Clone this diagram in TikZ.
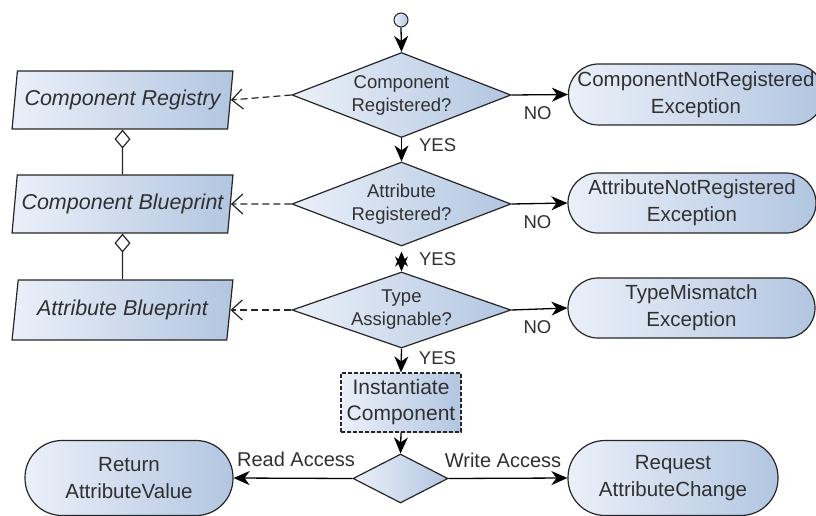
\documentclass[tikz,border=0pt]{standalone}
\usepackage{fontspec}
\setmainfont{Liberation Sans}
\usetikzlibrary{shapes.geometric,arrows.meta}

\definecolor{ink}{HTML}{303030}
\definecolor{fillL}{HTML}{EBF0F9}
\definecolor{fillR}{HTML}{B2C6E1}
\definecolor{edgec}{HTML}{262626}

\begin{document}
\begin{tikzpicture}[x=1pt,y=-1pt,
  every node/.style={text=ink},
  shaded/.style={draw=edgec, line width=1.2pt, left color=fillL, right color=fillR},
  decision/.style={shaded, diamond, inner sep=0pt},
  dtext/.style={font=\fontsize{18.5}{23}\selectfont, align=center, inner sep=0pt},
  terminal/.style={shaded, rectangle, rounded corners=#1, inner sep=0pt, align=center,
    font=\fontsize{20.5}{27}\selectfont},
  datastore/.style={shaded, trapezium, trapezium left angle=76, trapezium right angle=104,
    trapezium stretches=true, minimum width=221pt, minimum height=58pt, inner sep=0pt,
    font=\fontsize{21.5}{26}\selectfont\itshape},
  process/.style={shaded, rectangle, dash pattern=on 4pt off 2pt, inner sep=0pt,
    minimum width=120pt, minimum height=59pt, align=center, font=\fontsize{21}{26}\selectfont},
  startnode/.style={shaded, circle, line width=1pt, minimum size=14pt, inner sep=0pt},
  tip/.style={Stealth[length=16pt,width=14pt,inset=5pt]},
  flow/.style={draw=black, line width=1.3pt, -{Stealth[length=16pt,width=14pt,inset=5pt]}},
  twoway/.style={draw=black, line width=1.3pt,
    {Stealth[length=15pt,width=13pt,inset=5pt]}-{Stealth[length=15pt,width=13pt,inset=5pt]}},
  refer/.style={draw=edgec, line width=1.2pt, dash pattern=on 7pt off 4pt,
    -{Straight Barb[length=11pt,width=20pt]}},
  agg/.style={draw=edgec, line width=1.2pt, -{Diamond[open,length=19pt,width=16pt]}},
  lbl/.style={font=\fontsize{18.5}{22}\selectfont, inner sep=0pt},
  acc/.style={font=\fontsize{20}{24}\selectfont, inner sep=0pt}
]
\useasboundingbox (0,0) rectangle (816,516);

% main decision column
\node[startnode] (start) at (401,20) {};
\node[decision, minimum width=219pt, minimum height=85pt] (d1) at (401.5,95) {};
\node[dtext] at (d1) {Component\\Registered?};
\node[decision, minimum width=219pt, minimum height=84pt] (d2) at (401.5,204) {};
\node[dtext] at (d2) {Attribute\\Registered?};
\node[decision, minimum width=219pt, minimum height=76pt] (d3) at (401.5,310) {};
\node[dtext] at (d3) {Type\\Assignable?};
\node[process] (inst) at (401,402.5) {Instantiate\\Component};
\node[decision, minimum width=95pt, minimum height=49pt] (d4) at (400.5,478.5) {};

% data stores on the left
\node[datastore] (cr) at (122.5,100) {Component Registry};
\node[datastore] (cb) at (122.5,204) {Component Blueprint};
\node[datastore, minimum height=60pt] (ab) at (122.5,310) {Attribute Blueprint};

% terminals
\node[terminal=30pt, minimum width=255pt, minimum height=61pt] (cnre) at (696,94.5)
  {ComponentNotRegistered\\Exception};
\node[terminal=30pt, minimum width=248pt, minimum height=60pt] (anre) at (692,203)
  {AttributeNotRegistered\\Exception};
\node[terminal=30pt, minimum width=247pt, minimum height=60pt] (tme) at (691.5,308)
  {TypeMismatch\\Exception};
\node[terminal=37pt, minimum width=208pt, minimum height=75pt] (rav) at (129,478)
  {Return\\AttributeValue};
\node[terminal=37pt, minimum width=210pt, minimum height=75pt] (rac) at (673,478)
  {Request\\AttributeChange};

% control flow
\draw[flow] (start.south) -- (d1.north);
\draw[flow] (d1.south) -- node[lbl, pos=0.31, anchor=west, xshift=17pt] {YES} (d2.north);
\draw[twoway, shorten <=5pt] (d2.south) -- node[lbl, pos=0.5, anchor=west, xshift=17pt] {YES} (d3.north);
\draw[flow] (d3.south) -- node[lbl, pos=0.4, anchor=west, xshift=17pt] {YES} (inst.north);
\draw[flow] (inst.south) -- (d4.north);

\draw[flow] (d1.east) -- node[lbl, below=11pt, xshift=-2pt] {NO} (cnre.west);
\draw[flow] (d2.east) -- node[lbl, below=11pt, xshift=-2pt] {NO} (anre.west);
\draw[flow] (d3.east) -- node[lbl, below=11pt, xshift=-2pt] {NO} (tme.west);

\draw[flow] (d4.west) -- node[acc, above=11pt, xshift=3pt] {Read Access} (rav.east);
\draw[flow] (d4.east) -- node[acc, above=10pt, xshift=-5pt] {Write Access} (rac.west);

% lookups into the data stores
\draw[refer] (d1.west) -- (cr.east);
\draw[refer] (d2.west) -- (cb.east);
\draw[refer] (d3.west) -- (ab.east);

% containment between the data stores
\draw[agg] (cb.north) -- (cr.south);
\draw[agg] (ab.north) -- (cb.south);
\end{tikzpicture}
\end{document}
